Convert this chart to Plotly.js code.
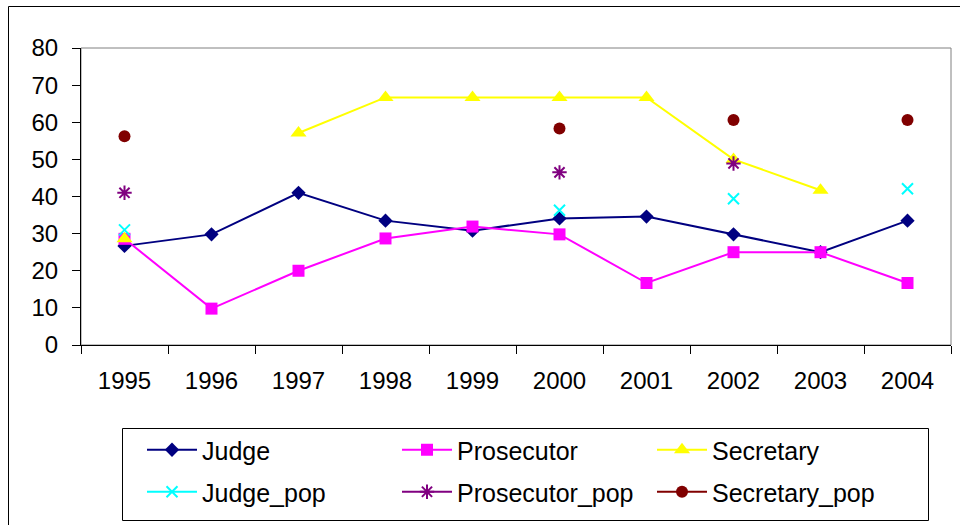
<!DOCTYPE html>
<html>
<head>
<meta charset="utf-8">
<script src="https://cdn.plot.ly/plotly-3.0.1.min.js"></script>
<style>
html,body{margin:0;padding:0;background:#fff;}
#chart{width:960px;height:525px;}
</style>
</head>
<body>
<div id="chart"></div>
<script>
const years = ['1995','1996','1997','1998','1999','2000','2001','2002','2003','2004'];
const judge = [26.7, 29.8, 41.0, 33.5, 30.8, 34.1, 34.6, 29.8, 25.0, 33.5];
const prosecutor = [28.6, 9.8, 20.0, 28.7, 31.9, 29.8, 16.7, 25.0, 25.0, 16.7];
const secretary = [28.6, null, 57.1, 66.7, 66.7, 66.7, 66.7, 50.0, 41.7, null];
const judgePop = [31.0, null, null, null, null, 36.3, null, 39.4, null, 42.1];
const prosecutorPop = [41.0, null, null, null, null, 46.5, null, 48.9, null, null];
const secretaryPop = [56.2, null, null, null, null, 58.3, null, 60.6, null, 60.6];

const FONT = 'Liberation Sans, Arial, sans-serif';

const traces = [
  {name:'Judge', y:judge, color:'#000080', symbol:'diamond', size:11, legend:'legend'},
  {name:'Prosecutor', y:prosecutor, color:'#FF00FF', symbol:'square', size:12, legend:'legend'},
  {name:'Secretary', y:secretary, color:'#FFFF00', symbol:'triangle-up', size:14, legend:'legend'},
  {name:'Judge_pop', y:judgePop, color:'#00FFFF', symbol:'x-thin-open', size:11, legend:'legend2'},
  {name:'Prosecutor_pop', y:prosecutorPop, color:'#800080', symbol:'asterisk-open', size:12, legend:'legend2'},
  {name:'Secretary_pop', y:secretaryPop, color:'#800000', symbol:'circle', size:12, legend:'legend2'}
].map(t => ({
  type:'scatter', mode:'lines+markers', x:years, y:t.y, name:t.name,
  legend:t.legend, connectgaps:false,
  line:{color:t.color, width:2},
  marker:{symbol:t.symbol, size:t.size, color:t.color, line:{color:t.color, width:(t.symbol.indexOf('open')>=0?2:0)}}
}));

const L = 81, R = 9, T = 48, B = 180;
const PW = 960 - L - R, PH = 525 - T - B;
const px = x => (x - L) / PW;
const py = y => (525 - B - y) / PH;

const legendCommon = {
  orientation:'h', xanchor:'left', yanchor:'middle',
  font:{family:FONT, size:25, color:'#000'},
  bgcolor:'rgba(0,0,0,0)', borderwidth:0,
  entrywidth:190, entrywidthmode:'pixels', itemwidth:50,
  itemclick:false
};

const layout = {
  width:960, height:525,
  margin:{l:L, r:R, t:T, b:B, pad:0},
  paper_bgcolor:'#fff', plot_bgcolor:'#fff',
  font:{family:FONT, size:24, color:'#000'},
  showlegend:true,
  legend:Object.assign({}, legendCommon, {x:px(142), y:py(450)}),
  legend2:Object.assign({}, legendCommon, {x:px(142), y:py(492)}),
  xaxis:{
    type:'category', range:[-0.5, 9.5], showgrid:false, zeroline:false,
    showline:true, linecolor:'#000', linewidth:1,
    ticks:'outside', ticklen:8, tickcolor:'#000', tickson:'boundaries',
    ticklabelstandoff:14,
    tickfont:{family:FONT, size:24, color:'#000'}
  },
  yaxis:{
    range:[0, 80], dtick:10, showgrid:false, zeroline:false,
    showline:true, linecolor:'#000', linewidth:1,
    ticks:'outside', ticklen:8, tickcolor:'#000',
    ticklabelstandoff:9,
    tickfont:{family:FONT, size:24, color:'#000'}
  },
  shapes:[
    {type:'rect', xref:'paper', yref:'paper', x0:0, x1:1, y0:0, y1:1,
     line:{color:'#808080', width:1}, fillcolor:'rgba(0,0,0,0)', layer:'below'},
    {type:'rect', xref:'paper', yref:'paper', x0:px(8.5), x1:px(975), y0:py(6.5), y1:py(540),
     line:{color:'#000', width:1}, fillcolor:'rgba(0,0,0,0)'},
    {type:'rect', xref:'paper', yref:'paper', x0:px(122.5), x1:px(928.5), y0:py(428.5), y1:py(520.5),
     line:{color:'#000', width:1}, fillcolor:'rgba(0,0,0,0)'}
  ]
};

Plotly.newPlot('chart', traces, layout, {displayModeBar:false, staticPlot:true});
</script>
</body>
</html>
